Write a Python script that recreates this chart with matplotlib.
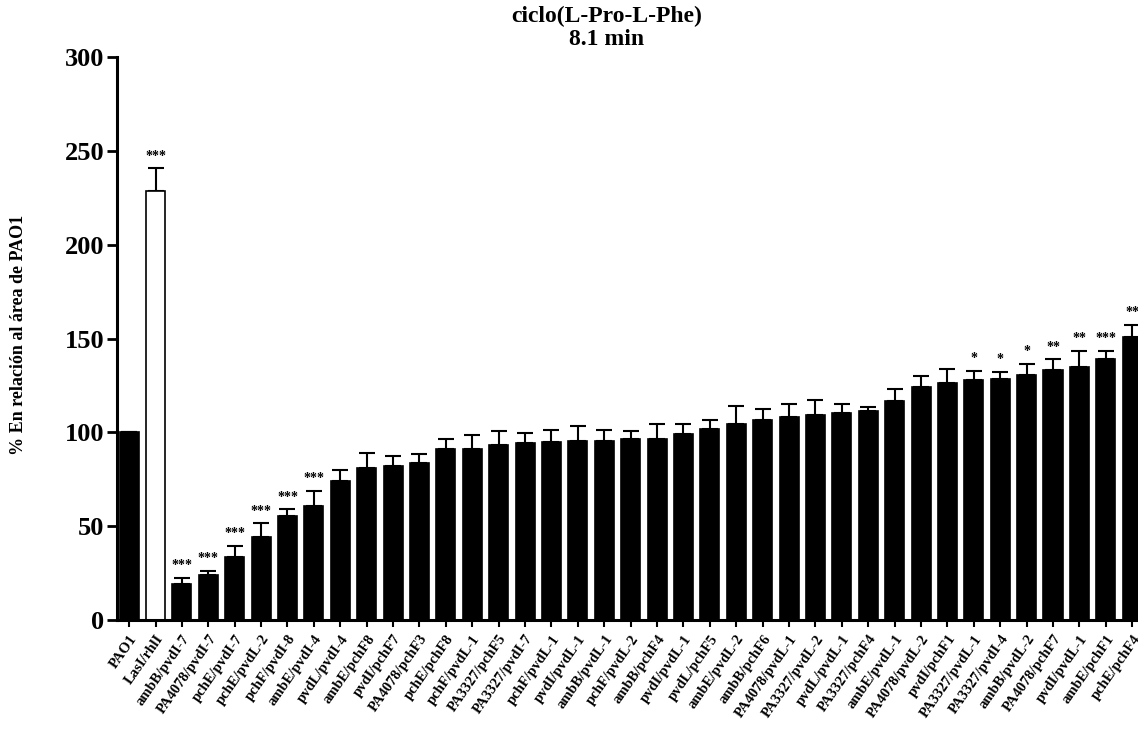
import matplotlib
matplotlib.use("Agg")
import matplotlib.pyplot as plt
import numpy as np

strains = [
    "PAO1", "LasI/rhlI", "ambB/pvdI-7", "PA4078/pvdI-7", "pchE/pvdI-7",
    "pchE/pvdL-2", "pchF/pvdI-8", "ambE/pvdI-4", "pvdL/pvdI-4", "ambE/pchF8",
    "pvdI/pchF7", "PA4078/pchF3", "pchE/pchF8", "pchF/pvdL-1", "PA3327/pchF5",
    "PA3327/pvdI-7", "pchF/pvdL-1", "pvdI/pvdL-1", "ambB/pvdL-1", "pchF/pvdL-2",
    "ambB/pchF4", "pvdI/pvdL-1", "pvdL/pchF5", "ambE/pvdL-2", "ambB/pchF6",
    "PA4078/pvdL-1", "PA3327/pvdL-2", "pvdL/pvdL-1", "PA3327/pchF4", "ambE/pvdL-1",
    "PA4078/pvdL-2", "pvdI/pchF1", "PA3327/pvdL-1", "PA3327/pvdI-4", "ambB/pvdL-2",
    "PA4078/pchF7", "pvdI/pvdL-1", "ambE/pchF1", "pchE/pchF4",
]

area_pct = [
    100.0, 228.6, 19.0, 24.0, 33.7,
    44.1, 55.4, 60.6, 74.1, 80.8,
    82.2, 83.8, 91.3, 91.1, 93.2,
    94.1, 95.0, 95.5, 95.5, 96.4,
    96.4, 99.3, 101.6, 104.6, 106.7,
    108.3, 109.1, 110.4, 111.3, 116.5,
    124.0, 126.3, 127.7, 128.4, 130.7,
    133.0, 134.6, 138.9, 150.9,
]

sem = [
    0.0, 12.0, 3.5, 2.1, 5.9,
    7.4, 3.6, 8.1, 5.7, 8.0,
    5.2, 4.5, 5.0, 7.3, 7.5,
    5.7, 6.4, 8.0, 5.9, 4.3,
    8.0, 5.1, 5.1, 9.6, 5.9,
    6.6, 8.1, 4.7, 2.2, 6.6,
    6.0, 7.3, 5.1, 3.7, 5.8,
    5.9, 8.7, 4.4, 6.4,
]

signif = [
    "", "***", "***", "***", "***",
    "***", "***", "***", "", "",
    "", "", "", "", "",
    "", "", "", "", "",
    "", "", "", "", "",
    "", "", "", "", "",
    "", "", "*", "*", "*",
    "**", "**", "***", "**",
]

serif = ["Liberation Serif", "DejaVu Serif"]
plt.rcParams["font.family"] = serif

fig = plt.figure(figsize=(11.38, 7.34), dpi=100)
ax = fig.add_axes([116.7 / 1138, 114 / 734, (1138 - 116.7) / 1138, 563 / 734])

x = np.arange(len(strains))
colors = ["white" if s == "LasI/rhlI" else "black" for s in strains]
ax.bar(x, area_pct, width=0.72, color=colors, edgecolor="black", linewidth=1.2, zorder=2)

err = np.array(sem)
ax.errorbar(x, area_pct, yerr=[np.zeros_like(err), err], fmt="none", ecolor="black",
            elinewidth=1.5, capsize=5.5, capthick=1.5, zorder=1)

for xi, v, e, s in zip(x, area_pct, sem, signif):
    if s:
        ax.text(xi, v + e + 6.5, s, ha="center", va="center", fontsize=10,
                fontweight="bold", color="black")

ax.set_xlim(-0.47, 38.22)
ax.set_ylim(0, 300)
ax.set_yticks([0, 50, 100, 150, 200, 250, 300])
ax.set_xticks(x)
ax.set_xticklabels(strains, rotation=55, ha="right", rotation_mode="anchor",
                   fontsize=10.5, fontweight="bold")
for lbl in ax.get_yticklabels():
    lbl.set_fontsize(19)
    lbl.set_fontweight("bold")

ax.spines["top"].set_visible(False)
ax.spines["right"].set_visible(False)
ax.spines["left"].set_linewidth(2.2)
ax.spines["bottom"].set_linewidth(2.2)
ax.tick_params(axis="y", length=7, width=2, pad=2)
ax.tick_params(axis="x", length=5, width=1.5, pad=4)

fig.text(19 / 1138, 1 - 335 / 734, "% En relación al área de PAO1", rotation=90,
         ha="center", va="center", fontsize=13, fontweight="bold")
fig.text(607 / 1138, 1 - 28 / 734, "ciclo(L-Pro-L-Phe)\n8.1 min", ha="center",
         va="center", fontsize=17, fontweight="bold", linespacing=1.15)

fig.savefig("out.png", dpi=100)
